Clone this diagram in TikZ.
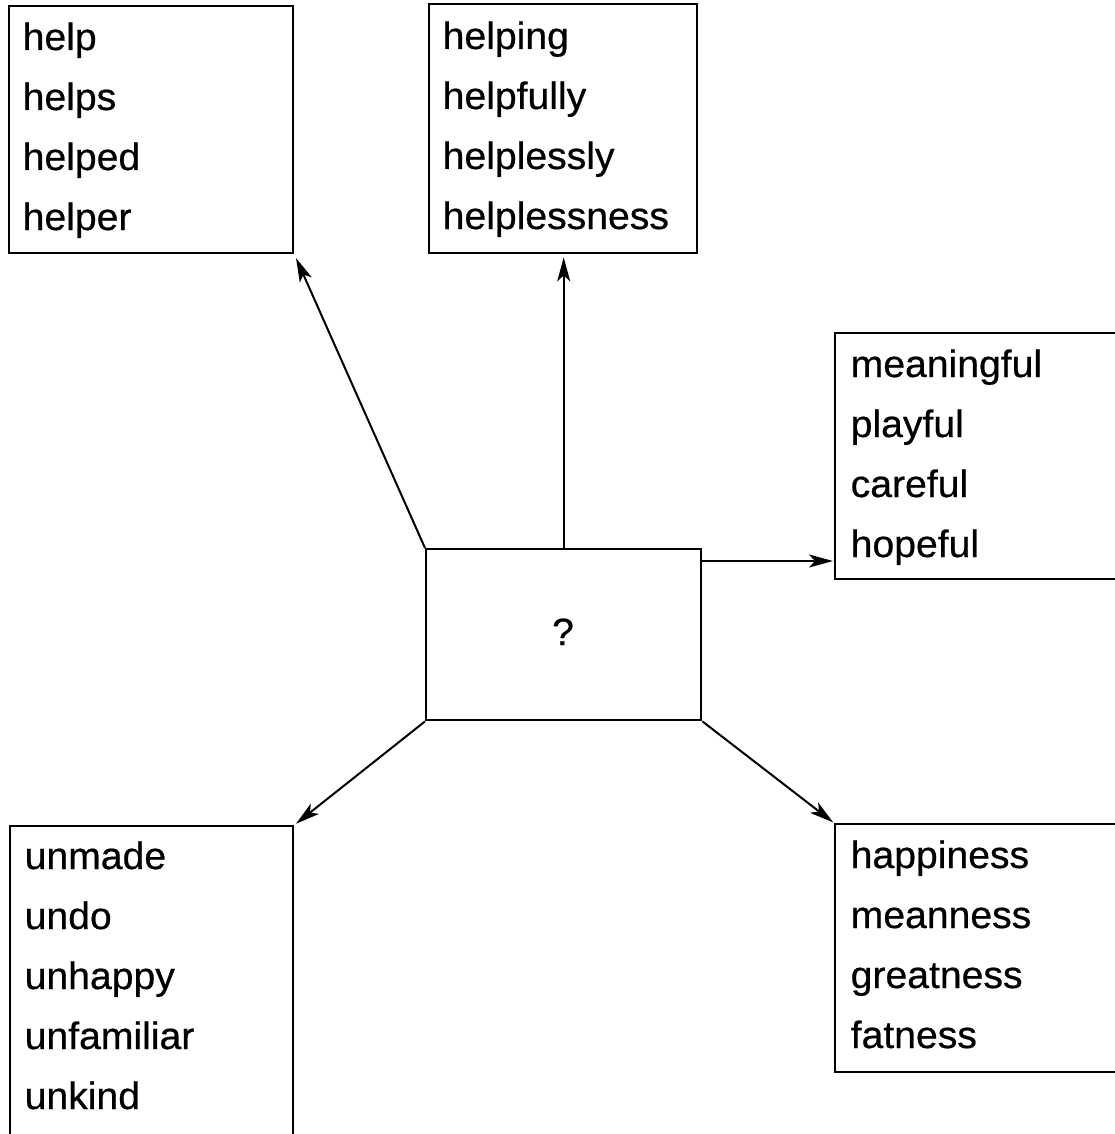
\documentclass[tikz,border=0pt]{standalone}
\usepackage{fontspec}
\setmainfont[FakeStretch=1.03,FakeBold=0.6]{Liberation Sans}
\usetikzlibrary{arrows.meta}
\begin{document}
\begin{tikzpicture}[x=1pt,y=-1pt,
  box/.style={draw, line width=2.4pt, inner sep=0pt, anchor=north west},
  word/.style={anchor=base west, inner sep=0pt, font=\fontsize{38}{46}\selectfont},
  conn/.style={line width=2pt, -{Stealth[length=24pt,width=13pt,inset=6pt]}}]
\useasboundingbox (0,0) rectangle (1114,1134);
% boxes
\node[box, minimum width=284pt, minimum height=247pt] (tl) at (8,5) {};
\node[box, minimum width=268pt, minimum height=249pt] (tm) at (428,3) {};
\node[box, minimum width=300pt, minimum height=246pt] (r) at (834,332) {};
\node[box, minimum width=275pt, minimum height=171pt] (c) at (425,548) {};
\node[box, minimum width=283pt, minimum height=330pt] (bl) at (9,825) {};
\node[box, minimum width=300pt, minimum height=248pt] (br) at (834,823) {};
% words
\foreach \w [count=\i] in {help,helps,helped,helper}
  \node[word] (tl-\i) at (22.5,{50+60*(\i-1)}) {\w};
\foreach \w [count=\i] in {helping,helpfully,helplessly,helplessness}
  \node[word] (tm-\i) at (442.5,{49+60*(\i-1)}) {\w};
\foreach \w [count=\i] in {meaningful,playful,careful,hopeful}
  \node[word] (r-\i) at (850.5,{377+60*(\i-1)}) {\w};
\foreach \w [count=\i] in {happiness,meanness,greatness,fatness}
  \node[word] (br-\i) at (850.5,{868+60*(\i-1)}) {\w};
\foreach \w [count=\i] in {unmade,undo,unhappy,unfamiliar,unkind}
  \node[word] (bl-\i) at (24.5,{869+60*(\i-1)}) {\w};
\node[word, anchor=base] (q) at (563,645) {?};
% connectors
\coordinate (rs) at ([yshift=-13pt]c.north east);
\draw[conn, shorten >=4pt] (c.north west) -- (tl.south east);
\draw[conn, shorten >=3pt] (c.north) -- (c.north |- tm.south);
\draw[conn, shorten >=1pt] (rs) -- (rs -| r.west);
\draw[conn, shorten >=2pt] (c.south west) -- (bl.north east);
\draw[conn, shorten >=1pt] (c.south east) -- (br.north west);
\end{tikzpicture}
\end{document}
